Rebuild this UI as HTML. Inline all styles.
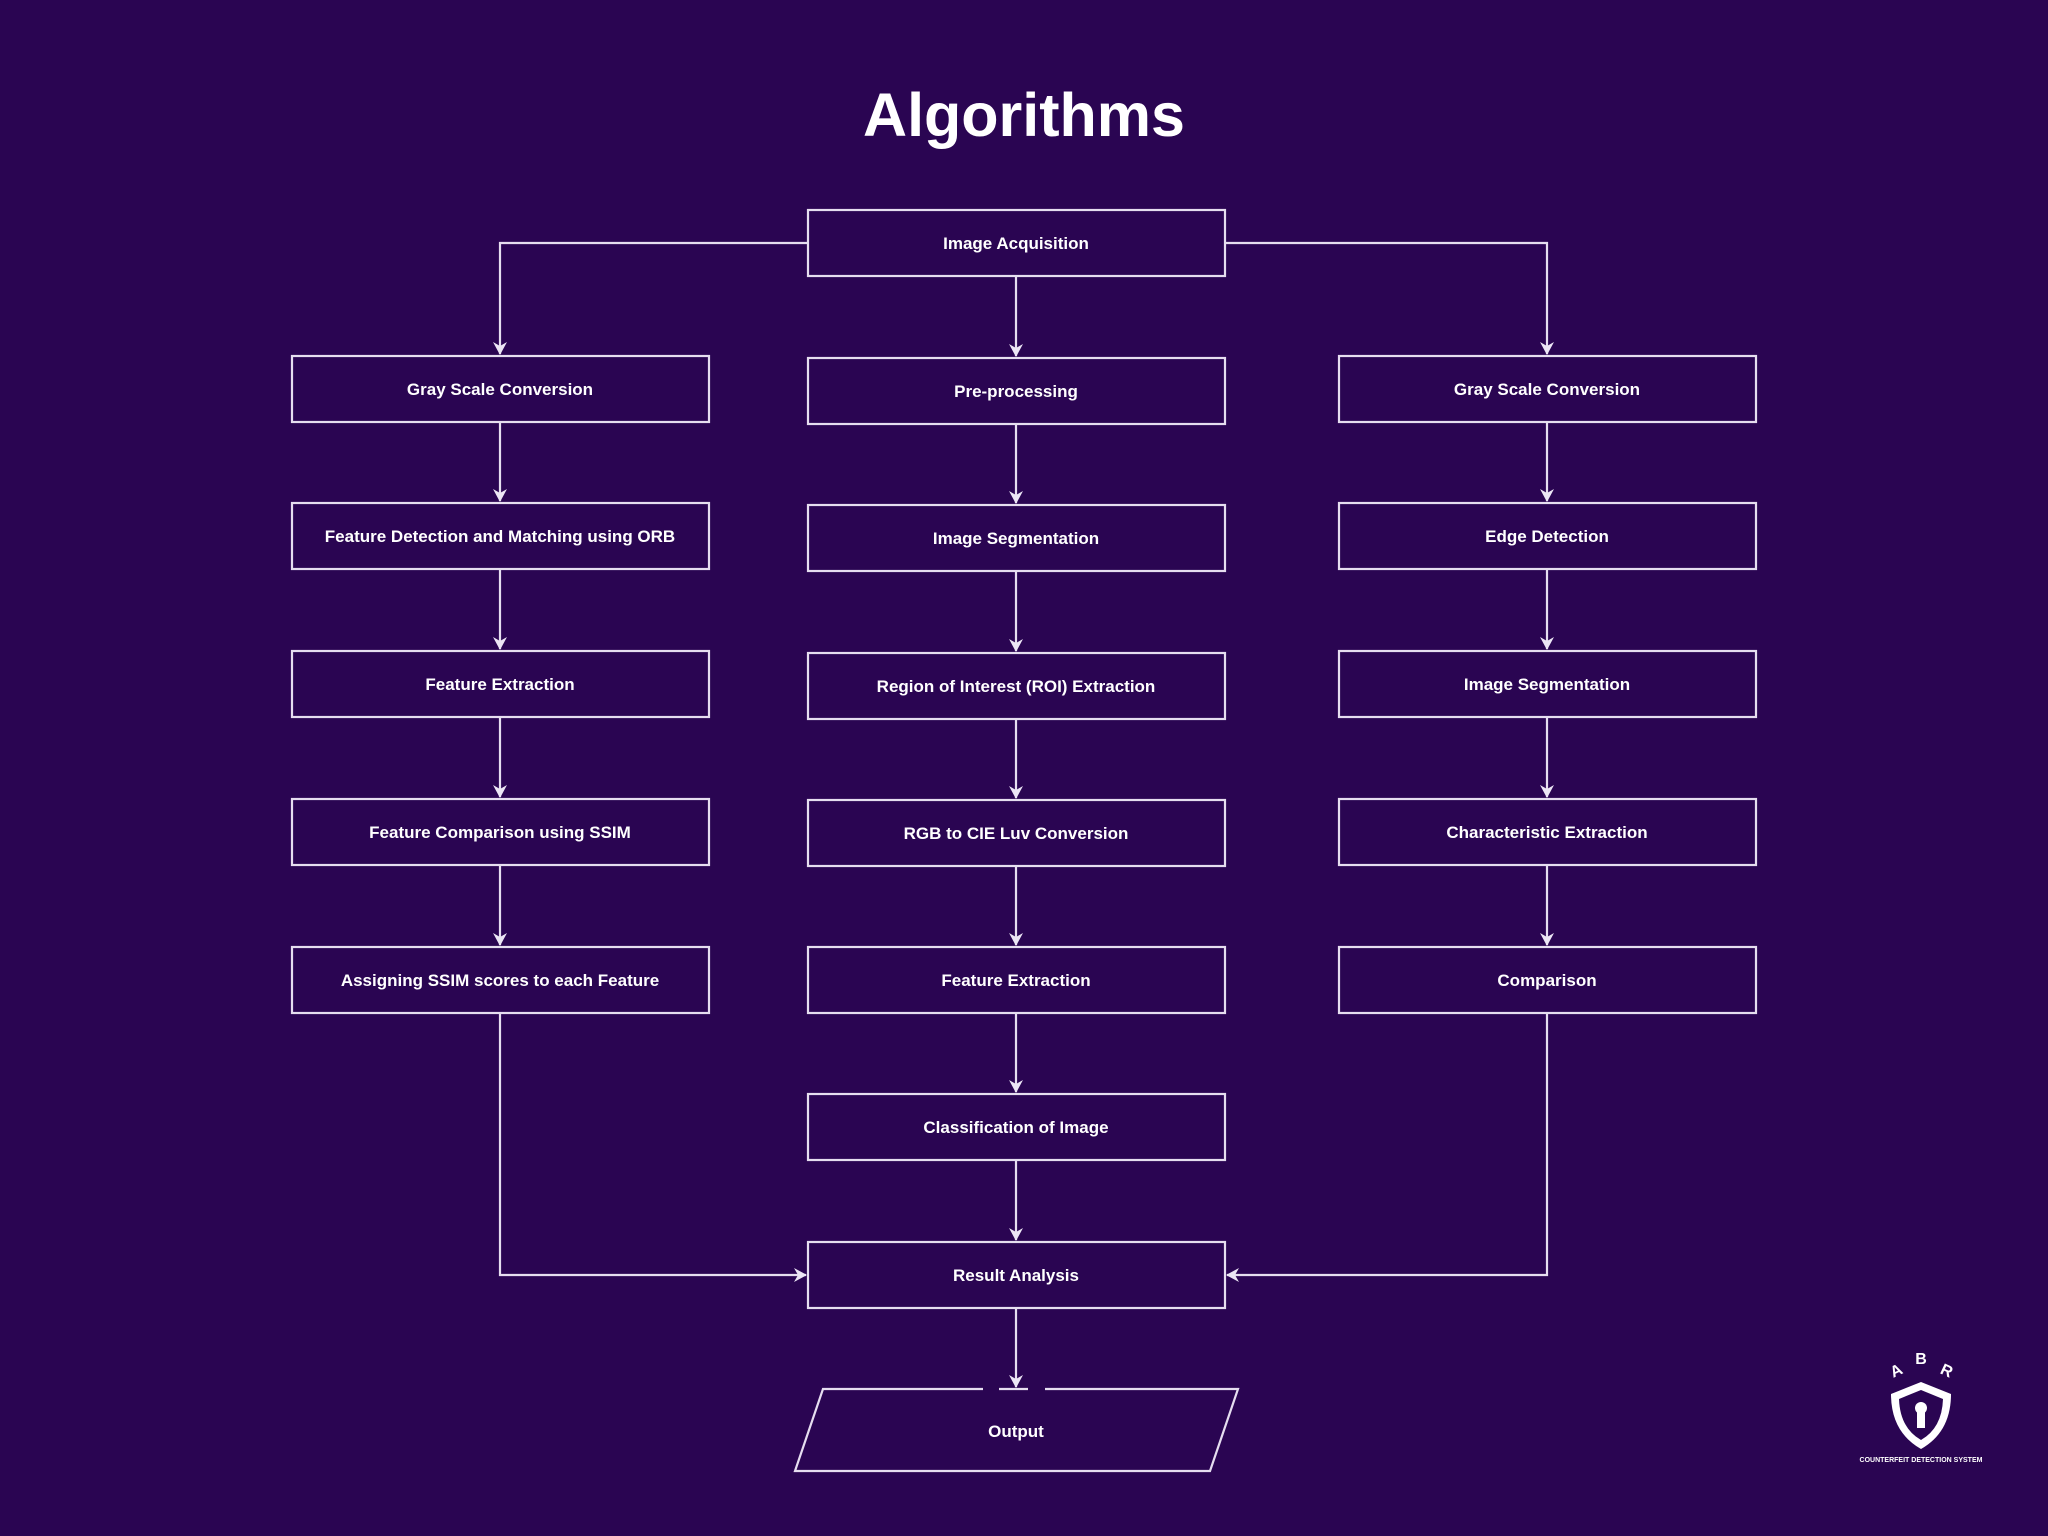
<!DOCTYPE html>
<html><head><meta charset="utf-8"><style>
html,body{margin:0;padding:0;background:#2a0552;}
svg{display:block}
</style></head><body>
<svg width="2048" height="1536" viewBox="0 0 2048 1536" xmlns="http://www.w3.org/2000/svg">
<defs>
<marker id="a" markerWidth="14" markerHeight="14" refX="12" refY="7" orient="auto" markerUnits="userSpaceOnUse">
<path d="M0,0 L13,7 L0,14 L4,7 Z" fill="#ece6f5"/>
</marker>
</defs>
<rect width="2048" height="1536" fill="#2a0552"/>
<text x="1024" y="136" text-anchor="middle" font-family="Liberation Sans, sans-serif" font-weight="bold" font-size="61" fill="#ffffff">Algorithms</text>
<g fill="none" stroke="#e6def0" stroke-width="2.2">
<rect x="808" y="210" width="417" height="66"/>
<rect x="292" y="356" width="417" height="66"/><rect x="808" y="358" width="417" height="66"/><rect x="1339" y="356" width="417" height="66"/>
<rect x="292" y="503" width="417" height="66"/><rect x="808" y="505" width="417" height="66"/><rect x="1339" y="503" width="417" height="66"/>
<rect x="292" y="651" width="417" height="66"/><rect x="808" y="653" width="417" height="66"/><rect x="1339" y="651" width="417" height="66"/>
<rect x="292" y="799" width="417" height="66"/><rect x="808" y="800" width="417" height="66"/><rect x="1339" y="799" width="417" height="66"/>
<rect x="292" y="947" width="417" height="66"/><rect x="808" y="947" width="417" height="66"/><rect x="1339" y="947" width="417" height="66"/>
<rect x="808" y="1094" width="417" height="66"/>
<rect x="808" y="1242" width="417" height="66"/>
<path d="M983,1389 L823,1389 L795,1471 L1210,1471 L1238,1389 L1045,1389 M999,1389 L1028,1389"/>
<path d="M808,243 L500,243 L500,354" marker-end="url(#a)"/>
<path d="M1225,243 L1547,243 L1547,354" marker-end="url(#a)"/>
<path d="M1016,276 L1016,356" marker-end="url(#a)"/>
<path d="M500,422 L500,501" marker-end="url(#a)"/>
<path d="M500,569 L500,649" marker-end="url(#a)"/>
<path d="M500,717 L500,797" marker-end="url(#a)"/>
<path d="M500,865 L500,945" marker-end="url(#a)"/>
<path d="M1547,422 L1547,501" marker-end="url(#a)"/>
<path d="M1547,569 L1547,649" marker-end="url(#a)"/>
<path d="M1547,717 L1547,797" marker-end="url(#a)"/>
<path d="M1547,865 L1547,945" marker-end="url(#a)"/>
<path d="M1016,424 L1016,503" marker-end="url(#a)"/>
<path d="M1016,571 L1016,651" marker-end="url(#a)"/>
<path d="M1016,719 L1016,798" marker-end="url(#a)"/>
<path d="M1016,866 L1016,945" marker-end="url(#a)"/>
<path d="M1016,1013 L1016,1092" marker-end="url(#a)"/>
<path d="M1016,1160 L1016,1240" marker-end="url(#a)"/>
<path d="M1016,1308 L1016,1387" marker-end="url(#a)"/>
<path d="M500,1013 L500,1275 L806,1275" marker-end="url(#a)"/>
<path d="M1547,1013 L1547,1275 L1227,1275" marker-end="url(#a)"/>
</g>
<g font-family="Liberation Sans, sans-serif" font-weight="bold" font-size="17" fill="#ffffff" text-anchor="middle">
<text x="1016" y="249">Image Acquisition</text>
<text x="500" y="395">Gray Scale Conversion</text>
<text x="1016" y="397">Pre-processing</text>
<text x="1547" y="395">Gray Scale Conversion</text>
<text x="500" y="542">Feature Detection and Matching using ORB</text>
<text x="1016" y="544">Image Segmentation</text>
<text x="1547" y="542">Edge Detection</text>
<text x="500" y="690">Feature Extraction</text>
<text x="1016" y="692">Region of Interest (ROI) Extraction</text>
<text x="1547" y="690">Image Segmentation</text>
<text x="500" y="838">Feature Comparison using SSIM</text>
<text x="1016" y="839">RGB to CIE Luv Conversion</text>
<text x="1547" y="838">Characteristic Extraction</text>
<text x="500" y="986">Assigning SSIM scores to each Feature</text>
<text x="1016" y="986">Feature Extraction</text>
<text x="1547" y="986">Comparison</text>
<text x="1016" y="1133">Classification of Image</text>
<text x="1016" y="1281">Result Analysis</text>
<text x="1016" y="1437">Output</text>
</g>
<g fill="#ffffff" font-family="Liberation Sans, sans-serif" font-weight="bold">
<text x="1896" y="1376" font-size="16" text-anchor="middle" transform="rotate(-25 1896 1370)">A</text>
<text x="1921" y="1364" font-size="16" text-anchor="middle">B</text>
<text x="1947" y="1376" font-size="16" text-anchor="middle" transform="rotate(25 1947 1370)">R</text>
<path d="M1921,1382 L1951,1394 Q1951,1432 1921,1449 Q1891,1432 1891,1394 Z"/>
<path d="M1921,1390 L1943,1399 Q1942,1428 1921,1440 Q1900,1428 1899,1399 Z" fill="#2a0552"/>
<circle cx="1921" cy="1408" r="6" fill="#ffffff"/>
<rect x="1917" y="1408" width="8" height="20" fill="#ffffff"/>
<text x="1921" y="1462" font-size="7" text-anchor="middle">COUNTERFEIT DETECTION SYSTEM</text>
</g>
</svg>
</body></html>
